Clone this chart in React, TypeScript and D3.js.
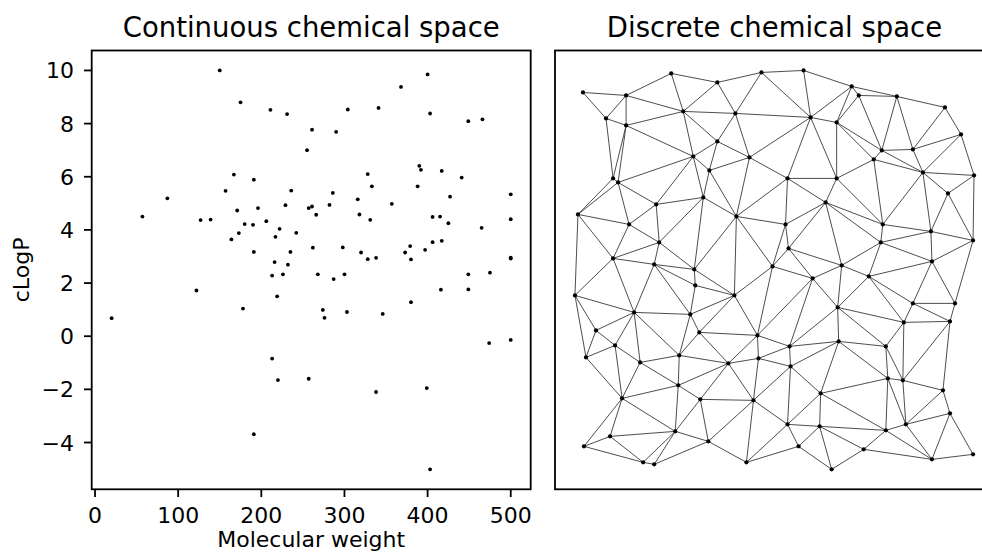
import React from "react";
import * as d3 from "d3";

const width = 982;
const height = 558;

// left panel: molecules
const molWeight = [
  150, 175, 211, 231, 261, 255, 167, 191, 157, 236, 87, 57, 171, 196, 229, 257, 261, 266, 127, 139,
  180, 190, 206, 222, 242, 173, 164, 217, 191, 235, 262, 216, 232, 213, 226, 268, 122, 219, 20, 178,
  213, 220, 257, 191, 400, 368, 304, 341, 403, 449, 466, 290, 390, 392, 417, 441, 328, 333, 388, 286,
  427, 500, 316, 357, 282, 318, 331, 406, 415, 425, 500, 465, 298, 320, 328, 338, 379, 373, 380, 397,
  406, 417, 500, 500, 287, 300, 449, 475, 416, 449, 380, 274, 276, 303, 346, 474, 500, 338, 399, 403,
];
const cLogP = [
  10.0, 8.8, 8.52, 8.36, 7.77, 7.0, 6.08, 5.89, 5.47, 5.48, 5.19, 4.5, 4.73, 4.82, 4.93, 4.82, 4.88, 4.57, 4.37, 4.39,
  4.22, 4.19, 4.33, 4.04, 3.89, 3.88, 3.64, 3.74, 3.17, 3.17, 3.33, 2.79, 2.69, 2.28, 2.33, 2.33, 1.72, 1.5, 0.68, 1.04,
  -0.84, -1.65, -1.6, -3.69, 9.85, 9.38, 8.53, 8.59, 8.38, 8.09, 8.16, 7.69, 6.41, 6.26, 6.22, 5.97, 6.1, 5.64, 5.64, 5.39,
  5.25, 5.34, 5.15, 4.98, 4.94, 4.58, 4.38, 4.49, 4.5, 4.25, 4.4, 4.08, 3.34, 3.15, 2.9, 2.95, 3.39, 3.15, 2.89, 3.25,
  3.54, 3.59, 2.96, 2.92, 2.15, 2.33, 2.33, 2.39, 1.75, 1.76, 1.28, 0.99, 0.69, 0.91, 0.84, -0.26, -0.14, -2.1, -1.95, -5.01,
];
const xTicks = [0, 100, 200, 300, 400, 500];
const yTicks = [-4, -2, 0, 2, 4, 6, 8, 10];

// right panel: graph layout (arbitrary units)
const nodeX = [
  8, 51, 96, 142, 186, 31, 51, 108, 160, 142, 118, 174, 134, 38, 43, 128, 81, 161, 3, 54, 84, 38, 79, 119,
  228, 276, 283, 321, 369, 235, 261, 385, 306, 337, 298, 347, 398, 212, 261, 372, 250, 307, 210, 355, 397, 305, 213, 356, 197, 266,
  120, 0, 159, 59, 115, 21, 124, 182, 40, 11, 104, 65, 183, 153, 103, 47, 125, 178, 100, 35, 9, 133, 68, 79, 171,
  237, 293, 262, 337, 379, 328, 374, 263, 214, 310, 215, 312, 327, 367, 245, 374, 212, 244, 310, 330, 223, 288, 397, 356, 256,
];
const nodeY = [
  377, 374, 396, 387, 397, 351, 344, 358, 356, 328, 313, 312, 299, 291, 287, 272, 265, 253, 255, 245, 227, 211, 205, 200,
  399, 383, 374, 373, 362, 352, 347, 335, 319, 320, 310, 297, 294, 291, 291, 276, 267, 245, 245, 238, 229, 227, 221, 208, 203, 204,
  184, 174, 174, 157, 155, 139, 137, 134, 124, 112, 114, 107, 111, 106, 84, 71, 70, 69, 38, 33, 23, 28, 7, 5, 7,
  191, 193, 162, 166, 166, 147, 148, 128, 123, 123, 103, 91, 89, 79, 76, 56, 45, 43, 39, 45, 23, 20, 15, 10, 0,
];
const maxEdge = 84;

const font = "DejaVu Sans, sans-serif";
const top = 50.5;
const bottom = 489.3;
const panelW = 439;
const leftX0 = 91.7;
const rightX0 = 555;
const tickLen = 7.7;

// matplotlib-like 5% margins
const pad = (vals: number[]) => {
  const [lo, hi] = d3.extent(vals) as [number, number];
  const r = hi - lo;
  return [lo - 0.05 * r, hi + 0.05 * r];
};

export default function App() {
  const x = d3.scaleLinear().domain(pad(molWeight)).range([leftX0, leftX0 + panelW]);
  const y = d3.scaleLinear().domain(pad(cLogP)).range([bottom, top]);
  const gx = d3.scaleLinear().domain(pad(nodeX)).range([rightX0, rightX0 + panelW]);
  const gy = d3.scaleLinear().domain(pad(nodeY)).range([bottom, top]);
  const fmt = d3.format("d");

  const pts = nodeX.map((v, i) => [v, nodeY[i]] as [number, number]);
  const del = d3.Delaunay.from(pts);
  const edges: [number, number][] = [];
  const { triangles, halfedges } = del;
  for (let e = 0; e < triangles.length; e++) {
    if (halfedges[e] > e) continue;
    const a = triangles[e];
    const b = triangles[e % 3 === 2 ? e - 2 : e + 1];
    const len = Math.hypot(pts[a][0] - pts[b][0], pts[a][1] - pts[b][1]);
    if (len <= maxEdge) edges.push([a, b]);
  }

  return (
    <svg
      width={width}
      height={height}
      style={{ position: "absolute", left: 0, top: 0, background: "#fff" }}
      fontFamily={font}
    >
      {/* left panel */}
      <text x={leftX0 + panelW / 2} y={37} textAnchor="middle" fontSize={27.5} fill="#000">
        Continuous chemical space
      </text>
      {molWeight.map((m, i) => (
        <circle key={i} cx={x(m)} cy={y(cLogP[i])} r={1.9} fill="#000" />
      ))}
      <rect x={leftX0} y={top} width={panelW} height={bottom - top} fill="none" stroke="#000" strokeWidth={1.8} />
      {xTicks.map((t) => (
        <g key={t}>
          <line x1={x(t)} x2={x(t)} y1={bottom} y2={bottom + tickLen} stroke="#000" strokeWidth={1.8} />
          <text x={x(t)} y={522.5} textAnchor="middle" fontSize={22} fill="#000">
            {fmt(t)}
          </text>
        </g>
      ))}
      {yTicks.map((t) => (
        <g key={t}>
          <line x1={leftX0 - tickLen} x2={leftX0} y1={y(t)} y2={y(t)} stroke="#000" strokeWidth={1.8} />
          <text x={74} y={y(t) + 8} textAnchor="end" fontSize={22} fill="#000">
            {fmt(t)}
          </text>
        </g>
      ))}
      <text x={leftX0 + panelW / 2} y={547} textAnchor="middle" fontSize={22} fill="#000">
        Molecular weight
      </text>
      <text
        transform={`translate(29,${(top + bottom) / 2}) rotate(-90)`}
        textAnchor="middle"
        fontSize={22}
        fill="#000"
      >
        cLogP
      </text>

      {/* right panel */}
      <text x={rightX0 + panelW / 2} y={37} textAnchor="middle" fontSize={27.5} fill="#000">
        Discrete chemical space
      </text>
      <g>
        {edges.map(([a, b], i) => (
          <line
            key={i}
            x1={gx(nodeX[a])}
            y1={gy(nodeY[a])}
            x2={gx(nodeX[b])}
            y2={gy(nodeY[b])}
            stroke="#3a3a3a"
            strokeWidth={0.9}
          />
        ))}
      </g>
      {nodeX.map((v, i) => (
        <circle key={i} cx={gx(v)} cy={gy(nodeY[i])} r={2.1} fill="#000" />
      ))}
      <rect x={rightX0} y={top} width={panelW} height={bottom - top} fill="none" stroke="#000" strokeWidth={1.8} />
    </svg>
  );
}
